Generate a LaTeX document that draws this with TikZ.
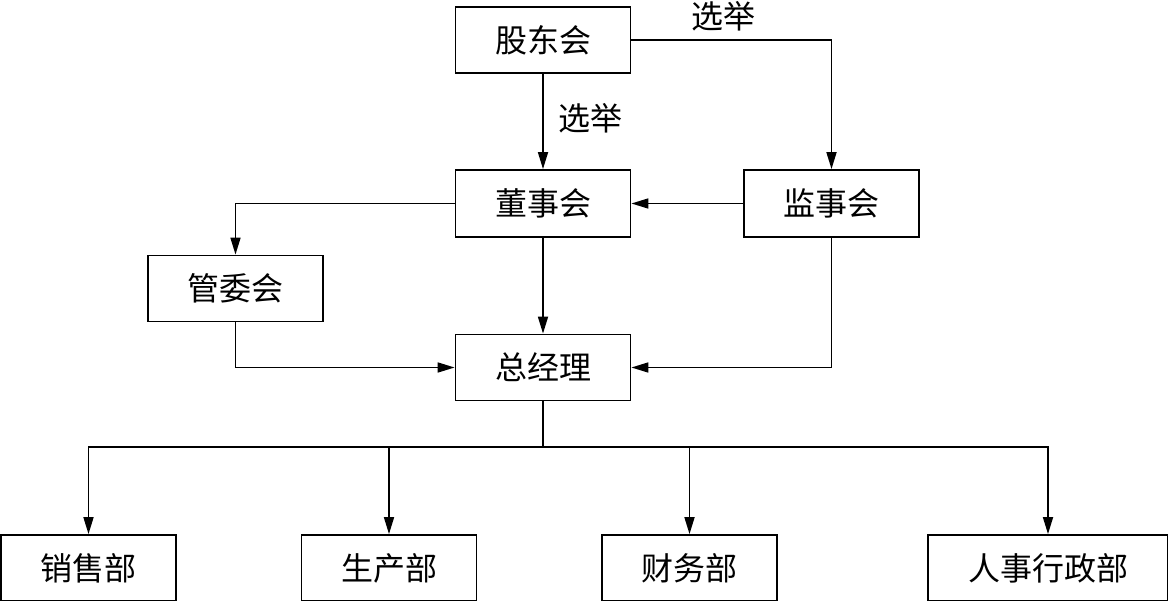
\documentclass[tikz,border=0pt]{standalone}
\usepackage{fontspec}
\setmainfont{Noto Sans CJK SC}
\usetikzlibrary{arrows.meta}
\begin{document}
\begin{tikzpicture}[x=1pt,y=-1pt,
  box/.style={draw, line width=1.8pt, minimum width=175pt, minimum height=66pt, inner sep=0pt, font=\fontsize{32}{32}\selectfont},
  conn/.style={line width=1.7pt, -{Triangle[length=17pt,width=10pt]}},
  plain/.style={line width=1.7pt},
  lbl/.style={inner sep=0pt, font=\fontsize{32}{32}\selectfont}]
\useasboundingbox (0,0) rectangle (1168,601);
\node[box] (gd) at (543,40) {股东会};
\node[box, minimum height=67pt] (ds) at (543,203.5) {董事会};
\node[box, minimum height=67pt] (js) at (831.5,203.5) {监事会};
\node[box] (gw) at (235.5,288.5) {管委会};
\node[box] (zj) at (543,367.5) {总经理};
\node[box] (xs) at (88.5,568) {销售部};
\node[box] (sc) at (389,568) {生产部};
\node[box] (cw) at (689.5,568) {财务部};
\node[box, minimum width=240pt] (rs) at (1048,568) {人事行政部};
\node[lbl] (l1) at (723,16) {选举};
\node[lbl] (l2) at (590,118) {选举};
\coordinate (bus) at (543,447);
\draw[conn] (gd.east) -| (js.north);
\draw[conn] (gd) -- (ds);
\draw[conn] (js) -- (ds);
\draw[conn] (ds.west) -| (gw.north);
\draw[conn] (ds) -- (zj);
\draw[conn] (gw.south) |- (zj.west);
\draw[conn] (js.south) |- (zj.east);
\draw[plain] (zj.south) -- (bus);
\draw[conn] (bus) -| (xs.north);
\draw[conn] (bus) -| (sc.north);
\draw[conn] (bus) -| (cw.north);
\draw[conn] (bus) -| (rs.north);
\end{tikzpicture}
\end{document}
